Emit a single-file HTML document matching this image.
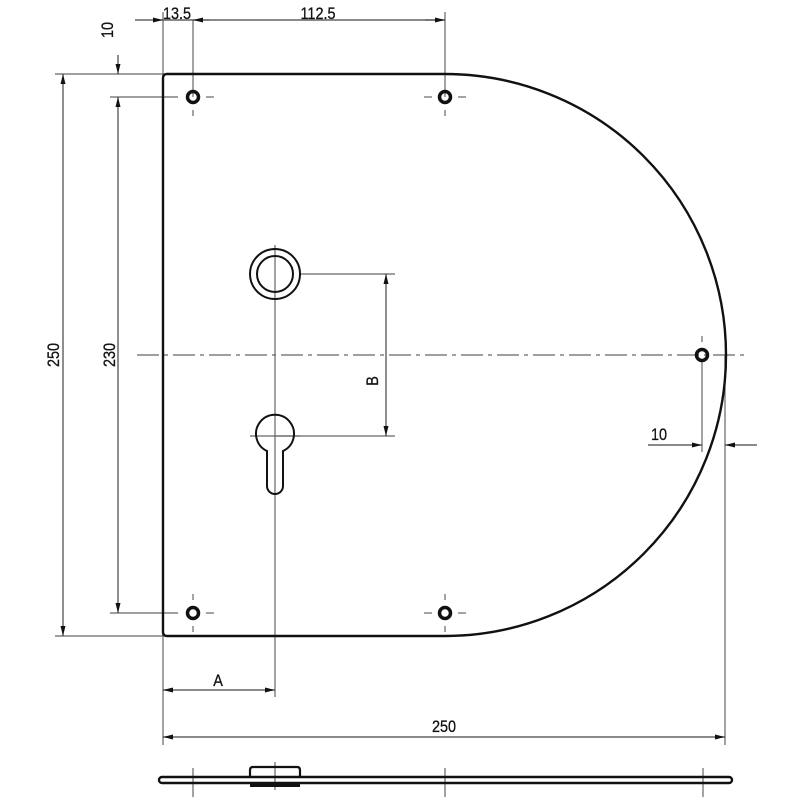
<!DOCTYPE html>
<html><head><meta charset="utf-8"><style>html,body{margin:0;padding:0;background:#fff}svg{display:block}</style></head><body>
<svg width="800" height="800" viewBox="0 0 800 800" xmlns="http://www.w3.org/2000/svg">
<defs>
<marker id="a" viewBox="0 0 10 6" refX="10" refY="3" markerWidth="11" markerHeight="6" markerUnits="userSpaceOnUse" orient="auto-start-reverse"><path d="M0,0.5 L10,3 L0,5.5z" fill="#111"/></marker>
</defs>
<g fill="none" stroke="#666" stroke-width="1.2">
<line x1="137" y1="355" x2="745" y2="355" stroke-dasharray="22,5,4,5"/>
<line x1="275" y1="245" x2="275" y2="697"/>
<line x1="163" y1="12" x2="163" y2="745"/>
<line x1="193" y1="20" x2="193" y2="97"/>
<line x1="445" y1="12" x2="445" y2="97"/>
<line x1="55" y1="74" x2="163" y2="74"/>
<line x1="110" y1="97" x2="178" y2="97"/>
<line x1="110" y1="613" x2="178" y2="613"/>
<line x1="55" y1="636" x2="163" y2="636"/>
<line x1="300" y1="274" x2="395" y2="274"/>
<line x1="275" y1="436" x2="395" y2="436"/>
<line x1="702" y1="362" x2="702" y2="452"/>
<line x1="725" y1="355" x2="725" y2="745"/>
<line x1="206" y1="97" x2="214" y2="97"/><line x1="193" y1="110" x2="193" y2="116"/>
<line x1="432" y1="97" x2="424" y2="97"/><line x1="458" y1="97" x2="466" y2="97"/><line x1="445" y1="110" x2="445" y2="116"/>
<line x1="206" y1="613" x2="214" y2="613"/><line x1="193" y1="600" x2="193" y2="594"/><line x1="193" y1="626" x2="193" y2="632"/>
<line x1="432" y1="613" x2="424" y2="613"/><line x1="458" y1="613" x2="466" y2="613"/><line x1="445" y1="600" x2="445" y2="594"/><line x1="445" y1="626" x2="445" y2="632"/>
<line x1="702" y1="342" x2="702" y2="336"/>
<line x1="250" y1="436" x2="300" y2="436"/>
<line x1="193" y1="768" x2="193" y2="797"/><line x1="445" y1="768" x2="445" y2="797"/><line x1="703" y1="768" x2="703" y2="797"/><line x1="275" y1="762" x2="275" y2="790"/>
</g>
<g fill="none" stroke="#444" stroke-width="1.2">
<line x1="135" y1="20" x2="163" y2="20" marker-end="url(#a)"/>
<line x1="163" y1="20" x2="445" y2="20"/>
<line x1="193" y1="20" x2="209" y2="20" marker-start="url(#a)"/>
<line x1="425" y1="20" x2="445" y2="20" marker-end="url(#a)"/>
<line x1="118" y1="55" x2="118" y2="74" marker-end="url(#a)"/>
<line x1="118" y1="97" x2="118" y2="613" marker-start="url(#a)" marker-end="url(#a)"/>
<line x1="63" y1="74" x2="63" y2="636" marker-start="url(#a)" marker-end="url(#a)"/>
<line x1="386" y1="274" x2="386" y2="436" marker-start="url(#a)" marker-end="url(#a)"/>
<line x1="648" y1="445" x2="702" y2="445" marker-end="url(#a)"/>
<line x1="725" y1="445" x2="757" y2="445" marker-start="url(#a)"/>
<line x1="163" y1="690" x2="275" y2="690" marker-start="url(#a)" marker-end="url(#a)"/>
<line x1="163" y1="737" x2="725" y2="737" marker-start="url(#a)" marker-end="url(#a)"/>
</g>
<path d="M167,74 L445,74 A281,281 0 0 1 445,636 L167,636 Q163,636 163,632 L163,78 Q163,74 167,74z" fill="none" stroke="#111" stroke-width="2.4"/>
<g fill="none" stroke="#111">
<circle cx="193" cy="97" r="5.5" stroke-width="3.5"/>
<circle cx="445" cy="97" r="5.5" stroke-width="3.5"/>
<circle cx="193" cy="613" r="5.5" stroke-width="3.5"/>
<circle cx="445" cy="613" r="5.5" stroke-width="3.5"/>
<circle cx="702" cy="355" r="5.5" stroke-width="3.5"/>
<circle cx="275" cy="274" r="25" stroke-width="2"/>
<circle cx="275" cy="274" r="18" stroke-width="2"/>
<path d="M267,451 A19,19 0 1 1 283,451 L283,486 A8,8 0 0 1 267,486 Z" stroke-width="2"/>
<rect x="159" y="777" width="573" height="6" rx="3" stroke-width="2.4"/>
<path d="M250,777 L250,770 Q250,767 253,767 L297,767 Q300,767 300,770 L300,777" stroke-width="2.2"/>
<rect x="250" y="783" width="50" height="4" fill="#111" stroke="none"/>
</g>
<g font-family="'Liberation Sans',sans-serif" font-size="17" fill="#111" text-anchor="middle" stroke="#111" stroke-width="0.3">
<text transform="translate(177,19) scale(0.85,1)">13.5</text>
<text transform="translate(318,19) scale(0.85,1)">112.5</text>
<text transform="translate(113,30) rotate(-90) scale(0.85,1)">10</text>
<text transform="translate(59,355) rotate(-90) scale(0.85,1)">250</text>
<text transform="translate(115,355) rotate(-90) scale(0.85,1)">230</text>
<text transform="translate(378,381) rotate(-90) scale(0.85,1)">B</text>
<text transform="translate(659,440) scale(0.85,1)">10</text>
<text transform="translate(218,686) scale(0.85,1)">A</text>
<text transform="translate(444,732) scale(0.85,1)">250</text>
</g>
</svg>
</body></html>
